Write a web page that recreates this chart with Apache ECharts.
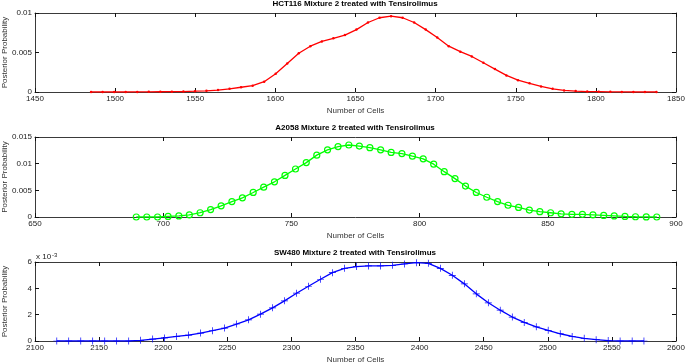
<!DOCTYPE html>
<html>
<head>
<meta charset="utf-8">
<script src="https://cdn.jsdelivr.net/npm/echarts@6/dist/echarts.min.js"></script>
<style>
html, body { margin: 0; padding: 0; background: #fff; }
#main { width: 685px; height: 363px; }
</style>
</head>
<body>
<div id="main"></div>
<script>
// HCT116 (red, '.' markers)
var hctCells = [1485, 1492.2, 1499.4, 1506.6, 1513.8, 1521, 1528.2, 1535.4, 1542.6, 1549.8,
  1557, 1564.2, 1571.4, 1578.6, 1585.8, 1593, 1600.2, 1607.4, 1614.6, 1621.8,
  1629, 1636.2, 1643.4, 1650.6, 1657.8, 1665, 1672.2, 1679.4, 1686.6, 1693.8,
  1701, 1708.2, 1715.4, 1722.6, 1729.8, 1737, 1744.2, 1751.4, 1758.6, 1765.8,
  1773, 1780.2, 1787.4, 1794.6, 1801.8, 1809, 1816.2, 1823.4, 1830.6, 1837.8];
var hctProb = [0, 0, 0, 0, 0.00001, 0.00002, 0.00003, 0.00004, 0.00006, 0.0001,
  0.00015, 0.00025, 0.0004, 0.0006, 0.0008, 0.0013, 0.0023, 0.0036, 0.0049, 0.0058,
  0.0064, 0.0068, 0.0072, 0.0079, 0.0088, 0.0094, 0.0096, 0.0094, 0.0088, 0.0079,
  0.0069, 0.0058, 0.0051, 0.0045, 0.0037, 0.0029, 0.0021, 0.0015, 0.0011, 0.0007,
  0.0004, 0.0002, 0.00012, 0.00006, 0.00004, 0.00002, 0.00001, 0, 0, 0];

// A2058 (green, 'o' markers)
var a2058Cells = [689.5, 693.6, 697.8, 701.9, 706.1, 710.2, 714.4, 718.5, 722.6, 726.8,
  730.9, 735.1, 739.2, 743.4, 747.5, 751.6, 755.8, 759.9, 764.1, 768.2,
  772.4, 776.5, 780.6, 784.8, 788.9, 793.1, 797.2, 801.4, 805.5, 809.6,
  813.8, 817.9, 822.1, 826.2, 830.4, 834.5, 838.6, 842.8, 846.9, 851.1,
  855.2, 859.4, 863.5, 867.6, 871.8, 875.9, 880.1, 884.2, 888.4, 892.5];
var a2058Prob = [0, 0, 0, 0.0001, 0.0002, 0.0004, 0.0008, 0.0014, 0.0021, 0.0029,
  0.0036, 0.0046, 0.0056, 0.0066, 0.0078, 0.009, 0.0102, 0.0116, 0.0126, 0.0132,
  0.0135, 0.0133, 0.013, 0.0126, 0.0121, 0.0119, 0.0114, 0.0109, 0.0099, 0.0085,
  0.0072, 0.0058, 0.0046, 0.0037, 0.0029, 0.0022, 0.0018, 0.0013, 0.001, 0.0008,
  0.0006, 0.0005, 0.0005, 0.0004, 0.0003, 0.0002, 0.0001, 0.00005, 0.00002, 0];

// SW480 (blue, '+' markers), values in units of 1e-3
var swCells = [2117, 2126.3, 2135.7, 2145, 2154.4, 2163.7, 2173.1, 2182.4, 2191.8, 2201.1,
  2210.5, 2219.8, 2229.2, 2238.5, 2247.9, 2257.2, 2266.6, 2275.9, 2285.3, 2294.6,
  2304, 2313.3, 2322.7, 2332, 2341.4, 2350.7, 2360.1, 2369.4, 2378.8, 2388.1,
  2397.5, 2406.8, 2416.2, 2425.5, 2434.9, 2444.2, 2453.6, 2462.9, 2472.3, 2481.6,
  2491, 2500.3, 2509.7, 2519, 2528.4, 2537.7, 2547.1, 2556.4, 2565.8, 2575];
var swProb = [0, 0, 0, 0, 0, 0, 0, 0.05, 0.15, 0.23,
  0.35, 0.45, 0.6, 0.78, 0.98, 1.29, 1.61, 2.04, 2.52, 3.05,
  3.63, 4.16, 4.69, 5.19, 5.52, 5.65, 5.7, 5.7, 5.75, 5.85,
  5.95, 5.9, 5.52, 4.99, 4.34, 3.58, 2.9, 2.34, 1.82, 1.41,
  1.08, 0.81, 0.55, 0.35, 0.2, 0.1, 0.03, 0, 0, 0];

var panelTitles = ["HCT116 Mixture 2 treated with Tensirolimus",
  "A2058 Mixture 2 treated with Tensirolimus",
  "SW480 Mixture 2 treated with Tensirolimus"];
var xRanges = [[1450, 1850, 50], [650, 900, 50], [2100, 2600, 50]];
var yRanges = [[0, 0.01, 0.005], [0, 0.015, 0.005], [0, 6, 2]];

var FONT = "'Liberation Sans', Arial, Helvetica, sans-serif";
var grids = [
  { left: 35, right: 9, top: 13, height: 79, outerBoundsMode: "none" },
  { left: 35, right: 9, top: 137, height: 80, outerBoundsMode: "none" },
  { left: 35, right: 9, top: 262, height: 79, outerBoundsMode: "none" }
];

function pairs(xs, ys) {
  var out = [];
  for (var i = 0; i < xs.length; i++) out.push([xs[i], ys[i]]);
  return out;
}

function boxLine() { return { show: true, onZero: false, lineStyle: { color: "#3a3a3a", width: 1 } }; }
function inTick() { return { show: true, inside: true, length: 4, lineStyle: { color: "#111", width: 1 } }; }

var xAxes = [], yAxes = [], titles = [];
for (var g = 0; g < 3; g++) {
  var xr = xRanges[g], yr = yRanges[g];
  titles.push({
    text: panelTitles[g], left: 355, textAlign: "center",
    top: grids[g].top - 13, padding: 0,
    textStyle: { fontFamily: FONT, fontSize: 8, fontWeight: "bold", color: "#000" }
  });
  // bottom + mirrored top
  xAxes.push({
    gridIndex: g, type: "value", position: "bottom",
    min: xr[0], max: xr[1], interval: xr[2],
    name: "Number of Cells", nameLocation: "middle", nameGap: 15, nameMoveOverlap: false,
    nameTextStyle: { fontFamily: FONT, fontSize: 8, color: "#333" },
    axisLine: boxLine(), axisTick: inTick(),
    axisLabel: { fontFamily: FONT, fontSize: 8, color: "#222", margin: 3,
      showMinLabel: true, showMaxLabel: true, formatter: function (v) { return String(v); } },
    splitLine: { show: false }
  });
  xAxes.push({
    gridIndex: g, type: "value", position: "top",
    min: xr[0], max: xr[1], interval: xr[2],
    axisLine: boxLine(), axisTick: inTick(),
    axisLabel: { show: false },
    splitLine: { show: false }
  });
  yAxes.push({
    gridIndex: g, type: "value", position: "left",
    min: yr[0], max: yr[1], interval: yr[2],
    name: "Posterior Probability", nameLocation: "middle", nameGap: 26, nameMoveOverlap: false,
    nameTextStyle: { fontFamily: FONT, fontSize: 8, color: "#333" },
    axisLine: boxLine(), axisTick: inTick(),
    axisLabel: { fontFamily: FONT, fontSize: 8, color: "#222", margin: 3,
      showMinLabel: true, showMaxLabel: true, formatter: function (v) { return String(v); } },
    splitLine: { show: false }
  });
  yAxes.push({
    gridIndex: g, type: "value", position: "right",
    min: yr[0], max: yr[1], interval: yr[2],
    axisLine: boxLine(), axisTick: inTick(),
    axisLabel: { show: false },
    splitLine: { show: false }
  });
}

var plusPath = "path://M4.5,0H5.5V4.5H10V5.5H5.5V10H4.5V5.5H0V4.5H4.5Z";

var myChart = echarts.init(document.getElementById("main"));
myChart.setOption({
  animation: false,
  title: titles,
  grid: grids,
  xAxis: xAxes,
  yAxis: yAxes,
  graphic: [{
    type: "text", left: 36, top: 252,
    style: {
      text: "{a|x 10}{b|-3}",
      rich: {
        a: { fontFamily: FONT, fontSize: 8, fill: "#222" },
        b: { fontFamily: FONT, fontSize: 6, fill: "#222", verticalAlign: "top", padding: [0, 0, 4, 1] }
      }
    }
  }],
  series: [
    {
      type: "line", xAxisIndex: 0, yAxisIndex: 0,
      data: pairs(hctCells, hctProb),
      symbol: "circle", symbolSize: 2.5, showSymbol: true,
      lineStyle: { color: "#ff0000", width: 1.3 },
      itemStyle: { color: "#ff0000" }
    },
    {
      type: "line", xAxisIndex: 2, yAxisIndex: 2,
      data: pairs(a2058Cells, a2058Prob),
      symbol: "circle", symbolSize: 6, showSymbol: true,
      lineStyle: { color: "#00ff00", width: 1.3 },
      itemStyle: { color: "rgba(0,0,0,0)", borderColor: "#00ff00", borderWidth: 1.2 }
    },
    {
      type: "line", xAxisIndex: 4, yAxisIndex: 4,
      data: pairs(swCells, swProb),
      symbol: plusPath, symbolSize: 7, showSymbol: true,
      lineStyle: { color: "#0000ff", width: 1.3 },
      itemStyle: { color: "#0000ff" }
    }
  ]
});
</script>
</body>
</html>
